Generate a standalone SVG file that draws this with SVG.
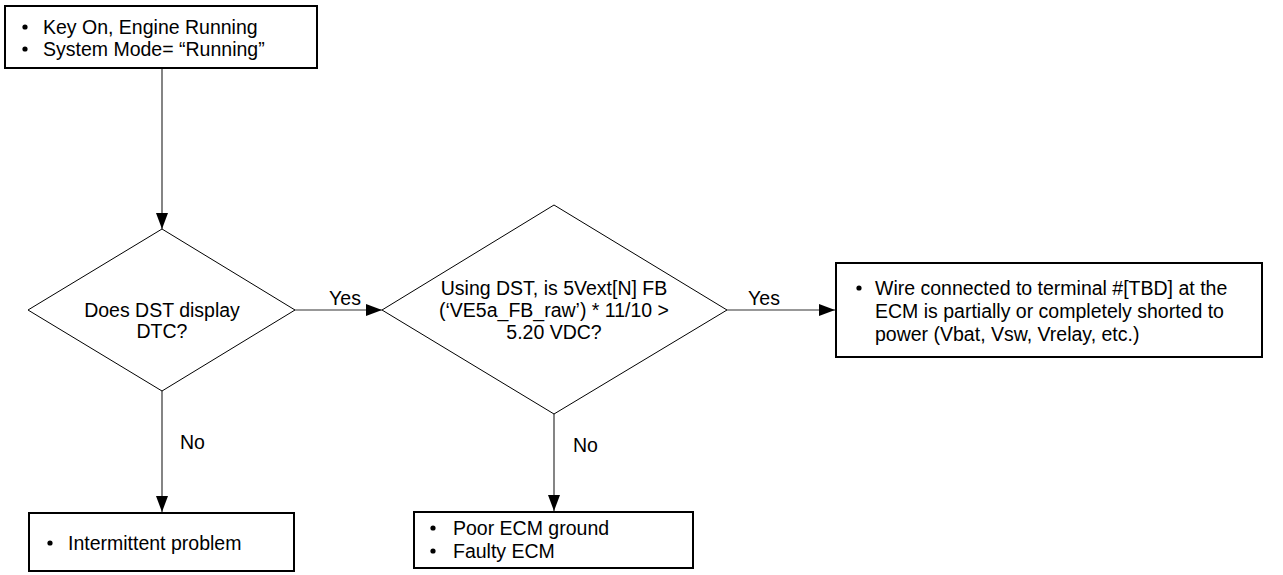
<svg xmlns="http://www.w3.org/2000/svg" width="1283" height="575" viewBox="0 0 1283 575">
<style>
text{font-family:"Liberation Sans",Arial,sans-serif;font-size:19.5px;fill:#000}
.c{text-anchor:middle}
.box{fill:#fff;stroke:#000;stroke-width:2}
.dia{fill:#fff;stroke:#000;stroke-width:1}
.con{fill:none;stroke:#333;stroke-width:1.2}
</style>
<defs>
<marker id="ah" markerUnits="userSpaceOnUse" markerWidth="16" markerHeight="12" refX="16" refY="6" orient="auto">
<path d="M0,0 L16,6 L0,12 Z" fill="#000"/>
</marker>
</defs>
<g id="connectors">
<line class="con" x1="162" y1="68" x2="162" y2="229" marker-end="url(#ah)"/>
<line class="con" x1="295" y1="310" x2="382" y2="310" marker-end="url(#ah)"/>
<line class="con" x1="727" y1="310" x2="835" y2="310" marker-end="url(#ah)"/>
<line class="con" x1="162" y1="391" x2="162" y2="512" marker-end="url(#ah)"/>
<line class="con" x1="554" y1="414" x2="554" y2="511" marker-end="url(#ah)"/>
<text class="c" x="345" y="305">Yes</text>
<text class="c" x="764" y="305">Yes</text>
<text x="180" y="449">No</text>
<text x="573" y="452">No</text>
</g>
<g id="start">
<rect class="box" x="5" y="6" width="312" height="62"/>
<circle cx="25" cy="27" r="2.6"/>
<circle cx="25" cy="49" r="2.6"/>
<text x="43" y="34">Key On, Engine Running</text>
<text x="43" y="56">System Mode= “Running”</text>
</g>
<g id="decision1">
<polygon class="dia" points="162,229 295,310 162,391 28,310"/>
<text class="c" x="162" y="317">Does DST display</text>
<text class="c" x="162" y="338">DTC?</text>
</g>
<g id="decision2">
<polygon class="dia" points="554,205 727,310 554,414 382,310"/>
<text class="c" x="554" y="295">Using DST, is 5Vext[N] FB</text>
<text class="c" x="554" y="317">(‘VE5a_FB_raw’) * 11/10 &gt;</text>
<text class="c" x="554" y="339">5.20 VDC?</text>
</g>
<g id="shorted">
<rect class="box" x="836" y="263" width="426" height="94"/>
<circle cx="859" cy="288" r="2.6"/>
<text x="875" y="295">Wire connected to terminal #[TBD] at the</text>
<text x="875" y="318">ECM is partially or completely shorted to</text>
<text x="875" y="341">power (Vbat, Vsw, Vrelay, etc.)</text>
</g>
<g id="intermittent">
<rect class="box" x="29" y="513" width="265" height="58"/>
<circle cx="50" cy="543" r="2.6"/>
<text x="68" y="550">Intermittent problem</text>
</g>
<g id="ecm">
<rect class="box" x="414" y="512" width="279" height="56"/>
<circle cx="433" cy="528" r="2.6"/>
<circle cx="433" cy="551" r="2.6"/>
<text x="453" y="535">Poor ECM ground</text>
<text x="453" y="558">Faulty ECM</text>
</g>
</svg>
